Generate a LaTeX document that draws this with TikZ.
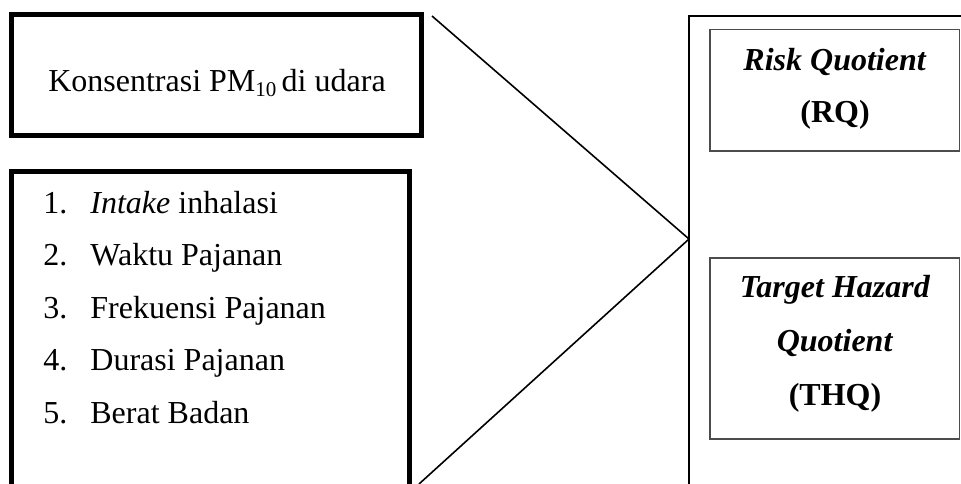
\documentclass[tikz,border=0pt]{standalone}
\usepackage{fontspec}
\setmainfont{Liberation Serif}
\begin{document}
\begin{tikzpicture}[x=0.5pt,y=-0.5pt,
  thickbox/.style={draw, line width=2.5pt, inner sep=0pt, outer sep=0pt},
  bigbox/.style={draw, line width=1.3pt, inner sep=0pt, outer sep=0pt},
  innerbox/.style={draw=black!70, line width=0.6pt, inner sep=0pt, outer sep=0pt},
  conn/.style={draw, line width=0.8pt},
  txt/.style={font=\fontsize{16}{19}\selectfont, inner sep=0pt, anchor=base},
  num/.style={txt, anchor=base west},
  item/.style={txt, anchor=base west},
  ]
\useasboundingbox (0,0) rectangle (961,483);
\clip (0,0) rectangle (961,483);
% boxes
\node[thickbox, minimum width=205pt, minimum height=60.5pt] (box1) at (216.5,74.5) {};
\node[thickbox, minimum width=199pt, minimum height=184.25pt] (box2) at (210.5,355.75) {};
\node[bigbox, minimum width=205.5pt, minimum height=292pt] (big) at (894.5,308) {};
\node[innerbox, minimum width=124.75pt, minimum height=60.75pt] (rq) at (834.75,90.25) {};
\node[innerbox, minimum width=124.75pt, minimum height=90.5pt] (thq) at (834.75,348.5) {};
% texts
\node[txt] (t1) at (217,91) {Konsentrasi PM{\raisebox{-2.5pt}{\fontsize{10.5}{12}\selectfont 10}}\,di udara};
\node[num] (n1) at (43,213) {1.};
\node[item] (i1) at (90,213) {\textit{Intake} inhalasi};
\node[num] (n2) at (43,265.5) {2.};
\node[item] (i2) at (90,265.5) {Waktu Pajanan};
\node[num] (n3) at (43,318) {3.};
\node[item] (i3) at (90,318) {Frekuensi Pajanan};
\node[num] (n4) at (43,370.5) {4.};
\node[item] (i4) at (90,370.5) {Durasi Pajanan};
\node[num] (n5) at (43,423) {5.};
\node[item] (i5) at (90,423) {Berat Badan};
\node[txt] (r1) at (835,70) {\textbf{\textit{Risk Quotient}}};
\node[txt] (r2) at (835,122) {\textbf{(RQ)}};
\node[txt] (h1) at (835,297) {\textbf{\textit{Target Hazard}}};
\node[txt] (h2) at (835,351) {\textbf{\textit{Quotient}}};
\node[txt] (h3) at (835,405) {\textbf{(THQ)}};
% connectors
\coordinate (top) at (432,16);
\coordinate (apex) at (689,239);
\coordinate (bot) at (419,484);
\draw[conn] (top) -- (apex) -- (bot);
\end{tikzpicture}
\end{document}
